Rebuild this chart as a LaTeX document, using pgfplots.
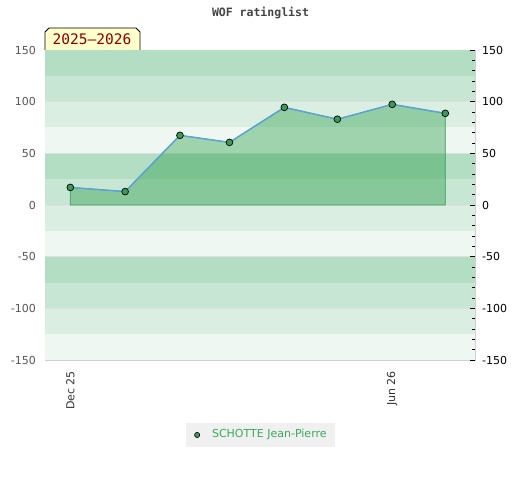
\documentclass[border=0pt]{standalone}
\usepackage{pgfplots}
\usepackage{pgfplotstable}
\pgfplotsset{compat=1.18}
\usepackage{fontspec}
\setmainfont{DejaVu Sans}
\newfontfamily\monofont{DejaVu Sans Mono}
\definecolor{bandA}{HTML}{B3DEC4}
\definecolor{bandB}{HTML}{C8E6D4}
\definecolor{bandC}{HTML}{DAEEE2}
\definecolor{bandD}{HTML}{EEF7F1}
\definecolor{axisgray}{HTML}{D0D0D0}
\definecolor{gridgray}{HTML}{E0E0E0}
\definecolor{labelgray}{HTML}{555555}
\definecolor{labeldark}{HTML}{333333}
\definecolor{areagreen}{RGB}{25,150,60}
\definecolor{edgegreen}{HTML}{3A9A5A}
\definecolor{lineblue}{RGB}{90,162,215}
\definecolor{markgreen}{HTML}{3A9A5A}
\definecolor{legendgray}{HTML}{F0F0F0}
\definecolor{legendgreen}{HTML}{3AAA5A}
\definecolor{titlegray}{HTML}{444444}
\definecolor{boxyellow}{HTML}{FFFFCC}
\definecolor{darkred}{HTML}{8B0000}
\pgfplotstableread{
x y
0 17
31 13
62 67.4
90 60.6
121 94.5
151 83
182 97.4
212 88.7
}\ratingdata
\pgfplotsset{band/.style={draw=none, fill=#1, forget plot}}
\begin{document}
\begin{tikzpicture}
\begin{axis}[
  at={(0,0)}, anchor=south west,
  scale only axis, width=430bp, height=310bp,
  xmin=-14.3, xmax=228.8, ymin=-150, ymax=150,
  axis line style={draw=axisgray, line width=0.8bp},
  ytick={-150,-100,...,150},
  xtick={0,182}, xticklabels={Dec 25, Jun 26},
  major tick length=0pt,
  font=\fontsize{11bp}{13bp}\selectfont,
  /pgf/number format/assume math mode=true,
  yticklabel style={color=labelgray, anchor=east, inner sep=0pt, xshift=-9bp},
  xticklabel style={yshift=-11bp, rotate=90, anchor=east, inner sep=0pt, color=labeldark},
  legend style={at={(0.501,-0.2419)}, anchor=center, fill=legendgray, draw=none,
    text=legendgreen, inner xsep=8.5bp, inner ysep=6.4bp,
    nodes={inner sep=0pt, text height=8bp, text depth=2.5bp},
    font=\fontsize{11bp}{13bp}\selectfont},
  legend image code/.code={\path[draw=none, fill=none] (0bp,0bp) -- (17.5bp,0bp);
    \draw[fill=markgreen, draw=black, line width=0.6bp] (2.6bp,0bp) circle (2.6bp);},
  legend cell align=left,
]
\addplot[band=bandA] coordinates {(-14.3,125) (228.8,125) (228.8,150) (-14.3,150)} -- cycle;
\addplot[band=bandB] coordinates {(-14.3,100) (228.8,100) (228.8,125) (-14.3,125)} -- cycle;
\addplot[band=bandC] coordinates {(-14.3,75) (228.8,75) (228.8,100) (-14.3,100)} -- cycle;
\addplot[band=bandD] coordinates {(-14.3,50) (228.8,50) (228.8,75) (-14.3,75)} -- cycle;
\addplot[band=bandA] coordinates {(-14.3,25) (228.8,25) (228.8,50) (-14.3,50)} -- cycle;
\addplot[band=bandB] coordinates {(-14.3,0) (228.8,0) (228.8,25) (-14.3,25)} -- cycle;
\addplot[band=bandC] coordinates {(-14.3,-25) (228.8,-25) (228.8,0) (-14.3,0)} -- cycle;
\addplot[band=bandD] coordinates {(-14.3,-50) (228.8,-50) (228.8,-25) (-14.3,-25)} -- cycle;
\addplot[band=bandA] coordinates {(-14.3,-75) (228.8,-75) (228.8,-50) (-14.3,-50)} -- cycle;
\addplot[band=bandB] coordinates {(-14.3,-100) (228.8,-100) (228.8,-75) (-14.3,-75)} -- cycle;
\addplot[band=bandC] coordinates {(-14.3,-125) (228.8,-125) (228.8,-100) (-14.3,-100)} -- cycle;
\addplot[band=bandD] coordinates {(-14.3,-150) (228.8,-150) (228.8,-125) (-14.3,-125)} -- cycle;
\addplot[gridgray, line width=0.8bp, forget plot] coordinates {(-14.3,100) (228.8,100)};
\addplot[gridgray, line width=0.8bp, forget plot] coordinates {(-14.3,50) (228.8,50)};
\addplot[gridgray, line width=0.8bp, forget plot] coordinates {(-14.3,0) (228.8,0)};
\addplot[gridgray, line width=0.8bp, forget plot] coordinates {(-14.3,-50) (228.8,-50)};
\addplot[gridgray, line width=0.8bp, forget plot] coordinates {(-14.3,-100) (228.8,-100)};
\addlegendimage{only marks, draw=none}
\addlegendentry{SCHOTTE Jean-Pierre}
\addplot[draw=edgegreen, line width=0.8bp, fill=areagreen, fill opacity=0.37, forget plot] table[x=x,y=y] {\ratingdata} \closedcycle;
\addplot[color=lineblue, line width=1.4bp, forget plot] table[x=x,y=y] {\ratingdata};
\addplot[only marks, mark=*, mark size=3.4bp, mark options={fill=markgreen, draw=black, line width=0.7bp}, forget plot] table[x=x,y=y] {\ratingdata};
\end{axis}
\begin{axis}[
  at={(0,0)}, anchor=south west,
  scale only axis, width=430bp, height=310bp,
  xmin=-14.3, xmax=228.8, ymin=-150, ymax=150,
  axis x line=none, axis y line*=right,
  axis line style={draw=axisgray, line width=0.8bp},
  ytick={-150,-100,...,150},
  minor ytick={-140,-130,-120,-110,-90,-80,-70,-60,-40,-30,-20,-10,10,20,30,40,60,70,80,90,110,120,130,140},
  tick align=inside, major tick length=5bp, minor tick length=3bp,
  tick style={black, line width=0.8bp},
  font=\fontsize{11bp}{13bp}\selectfont,
  /pgf/number format/assume math mode=true,
  yticklabel style={anchor=west, inner sep=0pt, xshift=7bp, color=black},
]
\addplot[draw=none] coordinates {(0,0)};
\end{axis}
\node[font=\monofont\bfseries\fontsize{11.5bp}{13bp}\selectfont, text=titlegray] at (215.5bp,347bp) {WOF ratinglist};
\draw[fill=boxyellow, line width=0.8bp] (0bp,310bp) -- (0bp,328bp) -- (4bp,332bp) -- (91bp,332bp) -- (95bp,328bp) -- (95bp,310bp);
\node[text=darkred, font=\monofont\fontsize{14.5bp}{16bp}\selectfont] at (47bp,320.5bp) {2025–2026};
\path (-45bp,-120bp) rectangle (475bp,360bp);
\end{tikzpicture}
\end{document}
